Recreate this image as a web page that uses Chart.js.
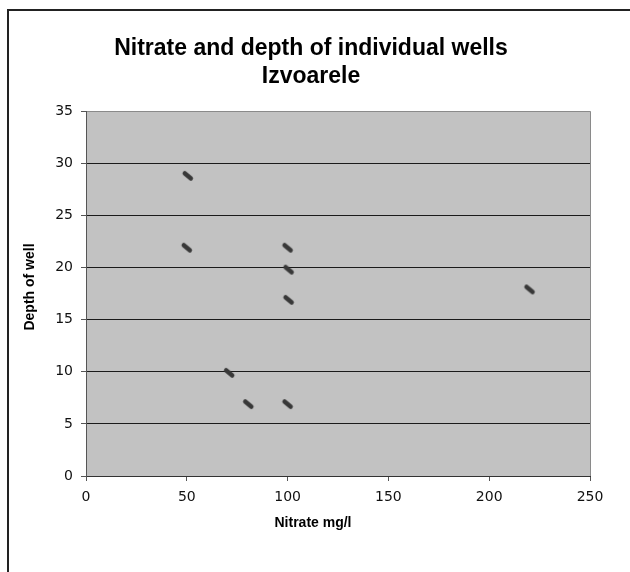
<!DOCTYPE html>
<html>
<head>
<meta charset="utf-8">
<script src="https://cdn.jsdelivr.net/npm/chart.js@4/dist/chart.umd.min.js"></script>
<style>
body { margin: 0; background: #fff; }
#marco { position: absolute; left: 7px; top: 9px; width: 700px; height: 700px; border-left: 2px solid #222; border-top: 2px solid #222; }
canvas { position: absolute; left: 0; top: 0; }
</style>
</head>
<body>
<div id="marco"></div>
<canvas id="grafico" width="630" height="572"></canvas>
<script>
// datos
const nitrato = [50.5, 50, 100, 100.5, 100.5, 220, 71, 80.5, 100];
const profundidad = [28.8, 21.9, 21.9, 19.8, 16.9, 17.9, 9.9, 6.9, 6.9];
const titulo = ["Nitrate and depth of individual wells", "Izvoarele"];
const tituloX = "Nitrate mg/l";
const tituloY = "Depth of well";

// marcador: trazo corto inclinado
const marcador = document.createElement("canvas");
marcador.width = 14;
marcador.height = 14;
const mctx = marcador.getContext("2d");
mctx.strokeStyle = "#383838";
mctx.lineWidth = 4.5;
mctx.lineCap = "round";
mctx.beginPath();
mctx.moveTo(4, 4.5);
mctx.lineTo(10, 9.5);
mctx.stroke();

const puntos = nitrato.map((x, i) => ({ x: x, y: profundidad[i] }));

const fondo = {
    id: "fondo",
    beforeDraw(chart) {
        const { ctx, chartArea: a } = chart;
        ctx.save();
        ctx.fillStyle = "#c2c2c2";
        ctx.fillRect(a.left, a.top, a.right - a.left, a.bottom - a.top);
        ctx.restore();
    },
    afterDraw(chart) {
        const { ctx, chartArea: a } = chart;
        ctx.save();
        ctx.strokeStyle = "#8a8a8a";
        ctx.lineWidth = 1;
        ctx.beginPath();
        ctx.moveTo(a.right + 0.5, a.top);
        ctx.lineTo(a.right + 0.5, a.bottom);
        ctx.stroke();

        // titulos de los ejes
        ctx.fillStyle = "#000";
        ctx.font = "bold 14px 'Liberation Sans', Arial";
        ctx.textAlign = "center";
        ctx.textBaseline = "middle";
        ctx.fillText(tituloX, 313, 523);
        ctx.translate(30, 287);
        ctx.rotate(-Math.PI / 2);
        ctx.fillText(tituloY, 0, 0);
        ctx.restore();
    }
};

new Chart(document.getElementById("grafico").getContext("2d"), {
    type: "scatter",
    data: {
        datasets: [{
            data: puntos,
            pointStyle: marcador,
            pointRadius: 7,
            pointHoverRadius: 7
        }]
    },
    options: {
        responsive: false,
        animation: false,
        layout: { padding: { left: 0, right: 8, top: 0, bottom: 0 } },
        plugins: {
            legend: { display: false },
            tooltip: { enabled: false },
            title: {
                display: true,
                text: titulo,
                color: "#000",
                font: { family: "'Liberation Sans', Arial", size: 23, weight: "bold", lineHeight: 1.2 },
                padding: { top: 35, bottom: 21 }
            }
        },
        scales: {
            x: {
                type: "linear",
                min: 0,
                max: 250,
                afterFit(scale) { scale.height = 96; },
                ticks: {
                    stepSize: 50,
                    color: "#111",
                    padding: 8,
                    font: { family: "'DejaVu Sans'", size: 14 }
                },
                grid: { drawOnChartArea: false, color: "#555", tickLength: 5 },
                border: { color: "#333", width: 1 }
            },
            y: {
                min: 0,
                max: 35,
                afterFit(scale) { scale.width = 86; },
                ticks: {
                    stepSize: 5,
                    color: "#111",
                    padding: 8,
                    font: { family: "'DejaVu Sans'", size: 14 }
                },
                grid: {
                    color: (c) => c.tick && c.tick.value === 35 ? "#8a8a8a" : "#1a1a1a",
                    tickColor: "#555",
                    tickLength: 5
                },
                border: { color: "#555", width: 1 }
            },
            derecha: {
                position: "right",
                display: true,
                afterFit(scale) { scale.width = 32; },
                ticks: { display: false },
                grid: { display: false },
                border: { display: false }
            }
        }
    },
    plugins: [fondo]
});
</script>
</body>
</html>
